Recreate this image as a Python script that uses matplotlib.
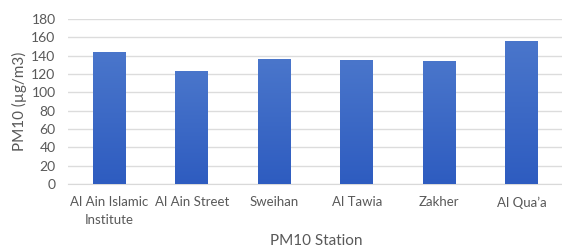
import numpy as np
import matplotlib.pyplot as plt

stations = ["Al Ain Islamic\nInstitute", "Al Ain Street", "Sweihan", "Al Tawia", "Zakher", "Al Qua\u2019a"]
pm10 = [144, 123, 136, 135, 134.5, 156]
yticks = [0, 20, 40, 60, 80, 100, 120, 140, 160, 180]

plt.rcParams["font.family"] = ["Lato", "DejaVu Sans"]

fig = plt.figure(figsize=(5.62, 2.5), dpi=100)
ax = fig.add_axes([68 / 562, 1 - 184 / 250, 495 / 562, 165 / 250])

x = np.arange(len(stations))
bars = ax.bar(x, pm10, width=0.4, color="#3c68c6", zorder=2)

# vertical gradient inside each bar
grad = np.linspace(0, 1, 256).reshape(-1, 1)
cmap = plt.matplotlib.colors.LinearSegmentedColormap.from_list("g", ["#2e5cc0", "#4a76cb"])
for b in bars:
    x0, y0 = b.get_x(), b.get_y()
    w, h = b.get_width(), b.get_height()
    im = ax.imshow(grad, extent=[x0, x0 + w, y0, y0 + h], origin="lower",
                   cmap=cmap, aspect="auto", zorder=3)
    im.set_clip_path(b)

ax.set_xlim(-0.5, len(stations) - 0.5)
ax.set_ylim(0, 180)
ax.set_yticks(yticks)
ax.set_xticks(x)
ax.set_xticklabels(stations, linespacing=1.5)
ax.yaxis.grid(True, color="#dcdcdc", linewidth=1, zorder=0)
ax.set_axisbelow(True)
for s in ["top", "right", "left"]:
    ax.spines[s].set_visible(False)
ax.spines["bottom"].set_color("#d9d9d9")
ax.tick_params(length=0, labelcolor="#595959")
ax.tick_params(axis="y", pad=9, labelsize=10)
ax.tick_params(axis="x", pad=9, labelsize=9.5)

ax.set_ylabel("PM10 (\u00b5g/m3)", fontsize=11, color="#595959", labelpad=3)
fig.text(316 / 562, 1 - 241 / 250, "PM10 Station", fontsize=11, color="#595959",
         ha="center", va="center")

fig.savefig("out.png", dpi=100)
